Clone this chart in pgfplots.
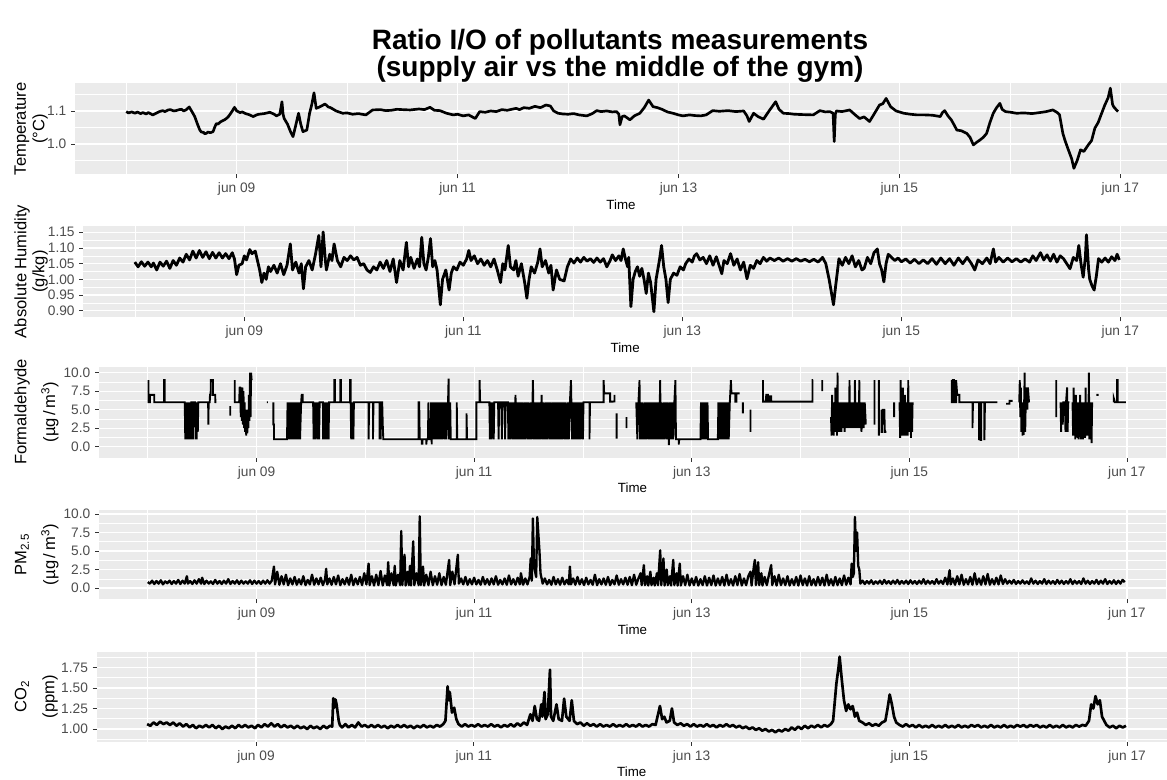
\documentclass[border=0pt]{standalone}
\usepackage{pgfplots}
\pgfplotsset{compat=1.18}
\usepackage{fontspec}
\setmainfont{Liberation Sans}
\definecolor{ggbg}{HTML}{EBEBEB}
\definecolor{ggtick}{HTML}{333333}
\definecolor{ggtext}{HTML}{4D4D4D}
\pgfplotsset{
 ggpanel/.style={
  scale only axis, anchor=south west,
  axis background/.style={fill=ggbg},
  axis line style={draw=none},
  tick align=outside, tick pos=left,
  major tick length=3pt, minor tick length=0pt,
  tick style={draw=ggtick, line width=0.6pt},
  grid=both,
  major grid style={draw=white, line width=0.9pt},
  minor grid style={draw=white, line width=0.45pt},
  xtick={1,3,5,7,9}, xticklabels={jun 09,jun 11,jun 13,jun 15,jun 17},
  minor xtick={0,2,4,6,8},
  tick label style={font=\fontsize{10.3}{12}\selectfont, text=ggtext},
  xlabel={Time}, xlabel style={font=\fontsize{10}{12}\selectfont, text=black, yshift=4pt},
  /pgf/number format/assume math mode=true,
  unbounded coords=jump,
 },
 ggline/.style={black, line width=1.9pt, line join=round, mark=none},
}
\begin{document}
\begin{tikzpicture}
\path[use as bounding box] (0,0) rectangle (875.25pt,585pt);
\node[font=\fontsize{21}{17.5}\selectfont\bfseries, align=center] at (465pt,543pt) {Ratio I/O of pollutants measurements\\(supply air vs the middle of the gym)};

% Panel 1 Temperature
\begin{axis}[ggpanel, at={(56.25pt,454.3pt)}, width=819pt, height=68.25pt,
 xmin=-0.464, xmax=9.423, ymin=0.908, ymax=1.184,
 ytick={1.0,1.1}, minor ytick={0.95,1.05,1.15},
 yticklabel style={/pgf/number format/fixed, /pgf/number format/fixed zerofill, /pgf/number format/precision=1}]
\addplot[ggline, line width=2pt] coordinates {
(0.00,1.098)(0.02,1.094)(0.05,1.097)(0.08,1.093)(0.10,1.097)(0.13,1.092)(0.15,1.095)(0.18,1.091)(0.20,1.095)(0.24,1.088)(0.27,1.093)(0.30,1.098)(0.33,1.101)(0.35,1.098)(0.38,1.103)(0.40,1.104)(0.43,1.100)(0.45,1.101)(0.48,1.104)(0.50,1.105)(0.52,1.100)(0.54,1.103)(0.57,1.112)(0.60,1.095)(0.62,1.083)(0.645,1.060)(0.665,1.043)(0.68,1.036)(0.70,1.035)(0.71,1.031)(0.725,1.032)(0.74,1.036)(0.76,1.034)(0.786,1.037)(0.80,1.050)(0.816,1.062)(0.83,1.060)(0.85,1.066)(0.87,1.070)(0.89,1.073)(0.91,1.078)(0.93,1.085)(0.96,1.100)(0.98,1.111)(1.00,1.100)(1.03,1.095)(1.05,1.097)(1.08,1.092)(1.11,1.089)(1.15,1.083)(1.18,1.088)(1.20,1.090)(1.25,1.092)(1.30,1.096)(1.34,1.090)(1.36,1.085)(1.39,1.090)(1.41,1.128)(1.42,1.090)(1.43,1.077)(1.46,1.060)(1.49,1.035)(1.51,1.022)(1.53,1.050)(1.56,1.093)(1.58,1.060)(1.60,1.037)(1.62,1.040)(1.635,1.042)(1.66,1.093)(1.68,1.120)(1.70,1.155)(1.72,1.108)(1.75,1.112)(1.80,1.121)(1.83,1.112)(1.85,1.110)(1.90,1.100)(1.96,1.093)(2.00,1.094)(2.05,1.090)(2.10,1.092)(2.17,1.088)(2.23,1.103)(2.30,1.104)(2.35,1.101)(2.40,1.102)(2.45,1.105)(2.50,1.104)(2.57,1.103)(2.65,1.106)(2.70,1.104)(2.75,1.111)(2.79,1.102)(2.84,1.101)(2.90,1.093)(2.96,1.088)(3.00,1.090)(3.05,1.085)(3.10,1.088)(3.16,1.077)(3.20,1.098)(3.25,1.096)(3.30,1.100)(3.35,1.098)(3.40,1.104)(3.45,1.102)(3.53,1.108)(3.56,1.104)(3.60,1.110)(3.65,1.108)(3.70,1.114)(3.75,1.110)(3.80,1.118)(3.84,1.115)(3.87,1.100)(3.91,1.093)(3.95,1.091)(4.00,1.090)(4.05,1.092)(4.10,1.088)(4.17,1.085)(4.22,1.092)(4.26,1.101)(4.30,1.098)(4.35,1.100)(4.40,1.097)(4.44,1.098)(4.46,1.090)(4.47,1.058)(4.49,1.083)(4.51,1.085)(4.54,1.078)(4.56,1.073)(4.60,1.085)(4.65,1.093)(4.69,1.110)(4.73,1.133)(4.77,1.113)(4.81,1.110)(4.85,1.105)(4.90,1.097)(4.95,1.093)(5.00,1.088)(5.04,1.085)(5.10,1.088)(5.15,1.086)(5.20,1.085)(5.25,1.088)(5.31,1.101)(5.37,1.099)(5.45,1.101)(5.52,1.098)(5.59,1.100)(5.62,1.085)(5.64,1.068)(5.68,1.093)(5.72,1.083)(5.77,1.075)(5.82,1.100)(5.88,1.128)(5.91,1.105)(5.95,1.093)(6.00,1.092)(6.05,1.090)(6.12,1.089)(6.22,1.088)(6.28,1.101)(6.33,1.097)(6.37,1.098)(6.40,1.093)(6.41,1.007)(6.42,1.090)(6.43,1.100)(6.48,1.098)(6.55,1.103)(6.60,1.088)(6.64,1.077)(6.68,1.082)(6.73,1.068)(6.77,1.090)(6.82,1.118)(6.85,1.122)(6.88,1.138)(6.92,1.113)(6.97,1.100)(7.04,1.093)(7.10,1.090)(7.16,1.088)(7.23,1.088)(7.30,1.087)(7.37,1.083)(7.39,1.095)(7.41,1.101)(7.44,1.085)(7.47,1.073)(7.50,1.055)(7.52,1.042)(7.56,1.040)(7.61,1.032)(7.64,1.020)(7.67,0.997)(7.70,1.005)(7.73,1.012)(7.76,1.020)(7.79,1.032)(7.82,1.065)(7.85,1.093)(7.88,1.110)(7.91,1.123)(7.93,1.105)(7.96,1.098)(8.01,1.096)(8.06,1.093)(8.13,1.094)(8.20,1.092)(8.27,1.095)(8.33,1.098)(8.39,1.103)(8.43,1.095)(8.45,1.088)(8.48,1.032)(8.50,1.010)(8.53,0.982)(8.56,0.955)(8.58,0.926)(8.61,0.950)(8.64,0.982)(8.67,0.977)(8.71,0.997)(8.74,1.010)(8.77,1.048)(8.80,1.065)(8.82,1.083)(8.86,1.118)(8.89,1.140)(8.91,1.169)(8.93,1.120)(8.94,1.113)(8.96,1.105)(8.98,1.098)
};
\end{axis}

% Panel 2 Absolute humidity
\begin{axis}[ggpanel, at={(62.5pt,347pt)}, width=812.8pt, height=68.7pt,
 xmin=-0.470, xmax=9.426, ymin=0.879, ymax=1.171,
 ytick={0.90,0.95,1.00,1.05,1.10,1.15}, minor ytick={0.925,0.975,1.025,1.075,1.125},
 yticklabel style={/pgf/number format/fixed, /pgf/number format/fixed zerofill, /pgf/number format/precision=2}]
\addplot[ggline, line width=2.1pt] coordinates {
(0.00,1.055)(0.03,1.040)(0.06,1.056)(0.09,1.042)(0.12,1.055)(0.15,1.040)(0.17,1.052)(0.20,1.030)(0.23,1.055)(0.26,1.042)(0.29,1.058)(0.32,1.035)(0.35,1.060)(0.38,1.045)(0.41,1.068)(0.44,1.055)(0.47,1.080)(0.50,1.062)(0.53,1.090)(0.56,1.068)(0.59,1.092)(0.62,1.070)(0.65,1.088)(0.68,1.066)(0.71,1.086)(0.74,1.068)(0.77,1.085)(0.80,1.068)(0.83,1.082)(0.86,1.066)(0.89,1.085)(0.91,1.065)(0.93,1.015)(0.95,1.045)(0.98,1.050)(1.00,1.075)(1.02,1.062)(1.05,1.095)(1.07,1.082)(1.10,1.090)(1.12,1.060)(1.14,1.030)(1.16,0.990)(1.18,1.020)(1.20,1.000)(1.22,1.040)(1.24,1.025)(1.27,1.045)(1.30,1.020)(1.33,1.050)(1.36,1.015)(1.39,1.045)(1.42,1.113)(1.44,1.030)(1.47,1.055)(1.50,1.020)(1.52,1.050)(1.54,0.970)(1.56,1.040)(1.59,1.060)(1.62,1.030)(1.65,1.080)(1.68,1.140)(1.70,1.040)(1.72,1.151)(1.74,1.060)(1.75,1.030)(1.78,1.080)(1.80,1.060)(1.82,1.113)(1.85,1.060)(1.88,1.040)(1.91,1.070)(1.94,1.060)(1.97,1.075)(2.00,1.062)(2.03,1.070)(2.06,1.045)(2.09,1.050)(2.12,1.030)(2.15,1.022)(2.18,1.040)(2.21,1.030)(2.24,1.055)(2.27,1.035)(2.30,1.060)(2.33,1.025)(2.36,1.065)(2.39,0.990)(2.42,1.060)(2.45,1.030)(2.48,1.118)(2.50,1.040)(2.52,1.070)(2.55,1.035)(2.58,1.065)(2.60,1.040)(2.62,1.134)(2.64,1.050)(2.66,1.030)(2.68,1.070)(2.70,1.130)(2.72,1.040)(2.74,1.060)(2.76,1.030)(2.79,0.919)(2.81,1.000)(2.84,1.030)(2.87,0.966)(2.89,1.020)(2.91,1.040)(2.94,1.030)(2.97,1.055)(3.00,1.045)(3.03,1.065)(3.05,1.092)(3.07,1.060)(3.10,1.075)(3.13,1.050)(3.16,1.065)(3.19,1.045)(3.22,1.060)(3.25,1.040)(3.28,1.065)(3.31,1.030)(3.34,0.990)(3.36,1.050)(3.38,1.030)(3.41,1.108)(3.43,1.040)(3.46,1.030)(3.48,1.060)(3.50,1.010)(3.53,1.050)(3.56,0.990)(3.58,0.940)(3.60,1.000)(3.62,1.040)(3.65,1.020)(3.68,1.055)(3.70,1.097)(3.72,1.040)(3.75,1.060)(3.78,1.020)(3.80,1.045)(3.82,0.966)(3.85,1.030)(3.88,1.000)(3.92,0.995)(3.95,1.040)(3.98,1.065)(4.01,1.052)(4.04,1.068)(4.07,1.055)(4.10,1.070)(4.13,1.058)(4.16,1.066)(4.19,1.054)(4.22,1.068)(4.25,1.055)(4.28,1.066)(4.31,1.040)(4.34,1.060)(4.36,1.078)(4.39,1.060)(4.42,1.075)(4.44,1.060)(4.46,1.097)(4.48,1.065)(4.50,1.040)(4.51,1.070)(4.53,0.913)(4.55,1.000)(4.57,1.025)(4.59,1.040)(4.61,1.010)(4.63,1.035)(4.65,1.000)(4.67,0.955)(4.69,1.020)(4.71,0.990)(4.74,0.897)(4.76,1.000)(4.79,1.060)(4.81,1.108)(4.83,1.040)(4.85,1.000)(4.87,0.926)(4.89,1.000)(4.92,1.020)(4.95,1.013)(4.98,1.040)(5.01,1.030)(5.03,1.050)(5.06,1.065)(5.09,1.055)(5.11,1.075)(5.13,1.082)(5.16,1.062)(5.19,1.070)(5.22,1.050)(5.25,1.075)(5.28,1.045)(5.31,1.072)(5.34,1.040)(5.36,1.018)(5.38,1.060)(5.41,1.050)(5.44,1.082)(5.47,1.045)(5.50,1.065)(5.53,1.030)(5.56,1.055)(5.59,1.002)(5.62,1.045)(5.65,1.035)(5.68,1.060)(5.71,1.050)(5.74,1.070)(5.77,1.058)(5.80,1.068)(5.84,1.060)(5.88,1.068)(5.92,1.058)(5.96,1.066)(6.00,1.058)(6.04,1.066)(6.08,1.058)(6.12,1.064)(6.16,1.056)(6.20,1.064)(6.24,1.055)(6.28,1.070)(6.31,1.050)(6.34,1.000)(6.36,0.960)(6.38,0.919)(6.40,0.980)(6.43,1.066)(6.46,1.045)(6.49,1.070)(6.52,1.050)(6.55,1.075)(6.58,1.040)(6.61,1.060)(6.64,1.030)(6.66,1.035)(6.69,1.070)(6.72,1.050)(6.75,1.085)(6.78,1.097)(6.80,1.050)(6.82,1.030)(6.84,0.992)(6.86,1.050)(6.88,1.080)(6.91,1.070)(6.94,1.060)(6.97,1.068)(7.00,1.056)(7.04,1.065)(7.08,1.052)(7.12,1.064)(7.16,1.050)(7.20,1.062)(7.24,1.050)(7.28,1.066)(7.32,1.048)(7.36,1.068)(7.40,1.050)(7.44,1.066)(7.48,1.045)(7.52,1.068)(7.56,1.050)(7.60,1.070)(7.64,1.050)(7.67,1.030)(7.70,1.062)(7.74,1.050)(7.78,1.068)(7.81,1.050)(7.84,1.097)(7.86,1.055)(7.89,1.070)(7.93,1.055)(7.97,1.068)(8.01,1.056)(8.05,1.066)(8.09,1.055)(8.13,1.065)(8.17,1.055)(8.20,1.075)(8.23,1.060)(8.27,1.085)(8.30,1.062)(8.33,1.078)(8.36,1.058)(8.39,1.080)(8.42,1.055)(8.45,1.075)(8.48,1.066)(8.51,1.050)(8.54,1.034)(8.57,1.070)(8.60,1.060)(8.62,1.108)(8.64,1.050)(8.66,1.007)(8.68,1.070)(8.69,1.142)(8.71,1.030)(8.72,1.000)(8.74,0.980)(8.76,0.966)(8.78,1.010)(8.80,1.066)(8.83,1.055)(8.86,1.068)(8.89,1.055)(8.92,1.072)(8.95,1.060)(8.97,1.080)(8.99,1.062)
};
\end{axis}

% Panel 3 Formaldehyde
\begin{axis}[ggpanel, at={(74.25pt,241.7pt)}, width=800.25pt, height=68.25pt,
 xmin=-0.448, xmax=9.359, ymin=-1.49, ymax=10.81,
 ytick={0,2.5,5,7.5,10}, minor ytick={1.25,3.75,6.25,8.75},
 yticklabel style={/pgf/number format/fixed, /pgf/number format/fixed zerofill, /pgf/number format/precision=1}]
\addplot[ggline, line width=1.4pt, line join=miter] coordinates {
(0.007,9)(0.007,6)(0.02,6)(0.02,7)(0.06,7)(0.06,6)(0.15,6)(0.15,9)(0.156,9)(0.156,6)(0.34,6)
(0.345,1)(0.35,6)(0.355,1)(0.36,6)(0.365,1)(0.37,6)(0.375,1)(0.38,6)(0.385,1)(0.39,6)(0.395,1)(0.40,6)(0.41,6)(0.415,1)(0.42,6)(0.435,6)(0.44,1)(0.445,6)(0.45,1)(0.455,6)(0.46,2)(0.465,6)
(0.555,6)(0.557,3)(0.56,6)(0.57,6)(0.572,7)(0.578,7)(0.58,9)(0.60,9)(0.60,7)(0.62,7)(0.622,6)(0.63,6)(0.631,nan)
(0.758,5.5)(0.758,4.2)(0.759,nan)
(0.80,9)(0.80,6)(0.84,6)(0.845,8)(0.85,8)(0.855,4)(0.86,8)(0.865,3.5)(0.87,8)(0.875,3)(0.88,7.5)(0.885,2.5)(0.89,6)(0.895,2)(0.90,5)(0.905,1.5)(0.91,4)(0.915,1.8)(0.92,5)(0.925,2.5)(0.93,7)(0.935,3.5)(0.94,10)(0.945,4)(0.95,10)(0.955,9)(0.956,nan)
(1.095,6)(1.105,6)(1.106,nan)
(1.155,6)(1.155,3)(1.16,3)(1.16,1)(1.28,1)
(1.285,6)(1.29,1)(1.295,6)(1.30,1)(1.305,6)(1.31,1)(1.32,6)(1.325,1)(1.335,6)(1.34,1)(1.35,6)(1.355,1)(1.365,6)(1.37,1)(1.38,6)(1.385,1)(1.395,6)(1.40,1)(1.41,6)(1.415,7)(1.425,7)(1.425,6)(1.52,6)
(1.525,1)(1.53,6)(1.54,1)(1.545,6)(1.56,1)(1.565,6)(1.575,1)(1.58,6)(1.61,6)(1.612,1)(1.617,6)(1.622,1)(1.627,6)(1.632,1)(1.637,6)(1.642,1)(1.647,6)(1.652,1)(1.657,6)(1.662,1)(1.667,6)(1.715,6)(1.715,9)(1.72,9)(1.72,6)(1.77,6)(1.77,9)(1.775,9)(1.775,6)(1.86,6)(1.86,9)(1.865,9)(1.865,6)(1.87,1)(1.875,6)(1.88,1)(1.885,6)(1.89,1)(1.895,6)(2.03,6)(2.03,1)(2.035,6)(2.07,6)(2.07,1)(2.075,6)(2.13,6)(2.13,1)(2.135,6)(2.14,1)(2.145,6)(2.155,6)(2.16,3)(2.165,1)(2.49,1)
(2.49,6)(2.495,6)(2.50,1)(2.52,1)(2.52,0.4)(2.525,0.4)(2.525,1)(2.56,1)(2.56,0.3)(2.565,1)(2.575,1)(2.58,6)(2.585,1)(2.60,1)(2.605,6)(2.61,0.3)(2.615,6)(2.62,1)(2.63,6)(2.635,1)(2.645,6)(2.65,1)(2.66,6)(2.665,1)(2.68,6)(2.685,1)(2.70,6)(2.705,1)(2.72,6)(2.725,1)(2.74,6)(2.745,1)(2.76,6)(2.765,9.2)(2.77,1)(2.78,6)(2.785,1)(2.84,1)(2.84,6)(2.845,1)(2.93,1)(2.93,4.5)(2.935,1)(3.02,1)(3.02,6)(3.05,6)(3.05,9)(3.055,6)(3.14,6)(3.145,1)(3.15,6)(3.16,1)(3.165,6)(3.18,1)(3.185,6)(3.22,6)(3.225,1)(3.23,6)(3.25,6)(3.255,1)(3.26,6)(3.28,6)(3.285,1)(3.29,6)(3.31,6)(3.315,1)(3.32,6)
(3.33,1)(3.34,6)(3.35,1)(3.36,6)(3.37,1)(3.38,7)(3.39,1)(3.40,6)(3.41,1)(3.42,6)(3.43,1)(3.44,6)(3.45,1)(3.46,6)(3.47,1)(3.48,6)(3.49,1)(3.50,6)(3.51,1)(3.52,6)(3.53,1)(3.54,9)(3.55,1)(3.56,6)(3.57,1)(3.58,6)(3.59,1)(3.60,6)(3.61,1)(3.62,7)(3.63,1)(3.64,6)(3.65,1)(3.66,6)(3.67,1)(3.68,6)(3.69,1)(3.70,6)(3.71,1)(3.72,6)(3.73,1)(3.74,6)(3.75,1)(3.76,6)(3.77,1)(3.78,6)(3.79,1)(3.80,6)(3.81,1)(3.82,6)(3.83,1)(3.84,6)(3.85,1)(3.86,6)(3.87,1)(3.88,6)(3.89,9)(3.90,1)(3.91,6)(3.92,1)(3.93,6)(3.94,1)(3.95,6)(3.96,1)(3.97,6)(3.98,1)(3.99,6)(4.00,1)(4.005,6)
(4.06,6)(4.06,1)(4.065,6)(4.19,6)(4.19,9)(4.195,7.2)(4.25,7.2)(4.25,6.1)(4.28,6.1)(4.281,nan)
(4.29,7)(4.29,6)(4.291,nan)(4.31,4.5)(4.31,1.1)(4.311,nan)(4.40,4)(4.40,2.5)(4.401,nan)
(4.49,6)(4.50,1)(4.51,6)(4.52,9)(4.525,1)(4.53,6)(4.54,1)(4.55,6)(4.56,1)(4.57,6)(4.58,1)(4.59,6)(4.60,1)(4.61,6)(4.62,1)(4.63,6)(4.64,1)(4.65,6)(4.66,1)(4.67,6)(4.68,1)(4.69,6)(4.70,1)(4.71,9)(4.715,1)(4.72,6)(4.73,1)(4.74,6)(4.75,1)(4.76,6)(4.77,1)(4.78,6)(4.79,0.2)(4.80,6)(4.81,1)(4.82,6)(4.83,1)(4.84,6)(4.85,9)(4.855,1)(4.88,1)(4.88,0.3)(4.885,1)(5.08,1)
(5.085,6)(5.09,1)(5.095,6)(5.10,1)(5.105,6)(5.11,1)(5.115,6)(5.12,1)(5.125,6)(5.13,1)(5.135,6)(5.14,1)(5.145,6)(5.15,1)(5.24,1)(5.245,6)(5.25,1)(5.255,6)(5.26,1)(5.265,6)(5.27,1)(5.28,6)(5.285,1)(5.29,6)(5.30,1)(5.305,6)(5.31,1)(5.32,6)(5.325,1)(5.335,6)(5.34,1)(5.35,6)(5.36,9)(5.365,7.2)(5.40,7.2)(5.40,6.1)(5.41,6.1)(5.41,7.2)(5.44,7.2)(5.441,nan)
(5.47,6)(5.47,4.5)(5.471,nan)(5.54,5)(5.54,2)(5.541,nan)
(5.655,9)(5.655,6.1)(5.68,6.1)(5.685,7)(5.70,7)(5.70,6.1)(5.72,6.1)(5.72,6.8)(5.73,6.8)(5.73,6.1)(6.11,6.1)(6.11,9)(6.115,9)(6.116,nan)
(6.20,9)(6.20,7.5)(6.201,nan)
(6.28,4)(6.285,1.5)(6.29,7)(6.295,2)(6.30,6)(6.305,1.5)(6.31,6)(6.315,2)(6.32,8)(6.325,2)(6.33,6)(6.335,1.5)(6.34,10)(6.345,2)(6.35,6)(6.355,2)(6.36,6)(6.365,2.5)(6.37,6)(6.375,2)(6.38,6)(6.385,2.5)(6.39,6)(6.395,2.5)(6.40,6)(6.405,2)(6.41,6)(6.415,2.5)(6.42,6)(6.425,2.5)(6.43,6)(6.435,2.5)(6.44,6)(6.445,2.5)(6.45,9)(6.455,2.5)(6.46,6)(6.465,2.5)(6.47,6)(6.475,2.5)(6.48,6)(6.485,2.5)(6.49,6)(6.495,2.5)(6.50,9)(6.505,2.5)(6.51,6)(6.515,2.5)(6.52,6)(6.525,2.5)(6.53,6)(6.535,2.5)(6.54,9)(6.545,2.5)(6.55,6)(6.56,2)(6.57,6)(6.58,2.5)(6.59,6)(6.60,3)(6.601,nan)
(6.68,9)(6.68,3)(6.681,nan)(6.72,9)(6.72,1.5)(6.721,nan)(6.745,5)(6.745,2)(6.75,2)(6.755,5)(6.77,5)(6.775,2)(6.79,2)(6.791,nan)
(6.86,4)(6.86,6)(6.861,nan)
(6.91,6)(6.915,1.2)(6.92,9)(6.925,1.5)(6.93,6)(6.935,2)(6.94,8)(6.945,1.5)(6.95,6)(6.955,1.5)(6.96,7)(6.965,2)(6.97,6)(6.975,1.5)(6.98,6)(6.985,1.5)(6.99,9)(6.995,2)(7.00,6)(7.005,2)(7.01,6)(7.015,1.2)(7.02,6)(7.025,2)(7.03,6)(7.031,nan)
(7.39,9)(7.39,6)(7.40,6)(7.40,9)(7.41,9)(7.41,6)(7.43,6)(7.43,9)(7.44,7)(7.46,7)(7.46,6)(7.58,6)(7.58,2.5)(7.585,6)(7.64,6)(7.64,0.9)(7.645,6)(7.65,6)(7.655,0.9)(7.66,0.9)(7.66,6)(7.69,6)(7.69,0.9)(7.695,6)(7.81,6)(7.811,nan)
(7.89,5.8)(7.92,5.8)(7.92,6.2)(7.95,6.2)(7.951,nan)
(8.01,6)(8.015,9)(8.02,4)(8.025,8)(8.03,2)(8.035,6)(8.04,1.5)(8.045,4)(8.05,1.6)(8.055,6)(8.06,10)(8.065,2)(8.07,6)(8.08,8)(8.085,5)(8.09,8)(8.10,6)(8.101,nan)
(8.35,4)(8.35,9)(8.351,nan)
(8.39,6)(8.395,2)(8.40,6)(8.41,3)(8.415,6)(8.43,6)(8.435,2)(8.44,6)(8.45,8)(8.455,2)(8.46,6)(8.47,6)(8.471,nan)
(8.50,6)(8.505,1.5)(8.51,8)(8.515,1.5)(8.52,6)(8.525,1)(8.53,7)(8.535,1.5)(8.54,6)(8.545,1.2)(8.55,6)(8.555,1)(8.56,6)(8.565,1.5)(8.57,7)(8.575,1)(8.58,6)(8.585,1.2)(8.59,6)(8.595,1)(8.60,6)(8.605,1.5)(8.61,6)(8.615,1.2)(8.62,8)(8.625,1.5)(8.63,6)(8.635,2)(8.64,6)(8.645,1.5)(8.65,10)(8.655,1)(8.66,6)(8.665,1)(8.67,6)(8.675,0.5)(8.68,6)(8.681,nan)
(8.72,7)(8.74,7)(8.741,nan)
(8.88,6)(8.88,6.5)(8.89,6)(8.91,6)(8.91,9)(8.915,9)(8.915,6)(8.99,6)
};
\end{axis}

% Panel 4 PM2.5
\begin{axis}[ggpanel, at={(74.25pt,135.5pt)}, width=800.25pt, height=67pt,
 xmin=-0.448, xmax=9.359, ymin=-1.52, ymax=10.54,
 ytick={0,2.5,5,7.5,10}, minor ytick={1.25,3.75,6.25,8.75},
 yticklabel style={/pgf/number format/fixed, /pgf/number format/fixed zerofill, /pgf/number format/precision=1}]
\addplot[ggline, line width=1.75pt] coordinates {
(0.00,0.8)(0.02,0.6)(0.04,1.0)(0.06,0.55)(0.08,0.95)(0.10,0.6)(0.12,1.05)(0.14,0.5)(0.16,0.9)(0.18,0.65)(0.20,1.0)(0.22,0.55)(0.24,0.95)(0.26,0.6)(0.28,1.1)(0.30,0.55)(0.32,1.0)(0.34,0.6)(0.36,1.6)(0.37,0.6)(0.39,0.95)(0.41,0.55)(0.43,1.05)(0.45,0.6)(0.47,1.2)(0.49,0.6)(0.50,1.4)(0.52,0.55)(0.54,1.0)(0.56,0.6)(0.58,0.9)(0.60,0.55)(0.62,1.1)(0.64,0.6)(0.66,0.95)(0.68,0.55)(0.70,1.0)(0.72,0.6)(0.74,1.2)(0.76,0.55)(0.78,0.95)(0.80,0.6)(0.82,1.05)(0.84,0.55)(0.86,1.0)(0.88,0.6)(0.90,0.9)(0.92,0.6)(0.94,1.05)(0.96,0.55)(0.98,1.0)(1.00,0.6)(1.02,0.95)(1.04,0.55)(1.06,1.0)(1.08,0.6)(1.10,1.05)(1.12,0.6)(1.14,1.0)
(1.16,2.9)(1.17,0.5)(1.19,2.2)(1.21,0.45)(1.23,1.6)(1.25,0.5)(1.27,1.8)(1.29,0.4)(1.31,1.3)(1.33,0.5)(1.35,1.5)(1.37,0.45)(1.39,1.2)(1.41,0.5)(1.43,1.6)(1.45,0.4)(1.47,1.1)(1.49,0.5)(1.51,1.8)(1.53,0.45)(1.55,1.3)(1.57,0.5)(1.59,1.4)(1.61,0.4)(1.63,1.2)(1.64,2.6)(1.65,0.5)(1.67,1.3)(1.69,0.45)(1.71,1.5)(1.73,0.5)(1.75,1.7)(1.77,0.4)(1.79,1.2)(1.81,0.5)(1.83,1.4)(1.85,0.45)(1.87,1.8)(1.89,0.4)(1.91,1.3)(1.93,0.5)(1.95,1.5)(1.97,0.4)(1.99,2.0)(2.01,0.5)(2.03,3.3)(2.04,0.4)(2.06,1.6)(2.08,0.35)(2.10,1.8)(2.12,0.4)(2.14,2.3)(2.16,0.35)(2.18,1.7)(2.20,0.4)(2.21,3.5)(2.22,0.35)(2.24,2.0)(2.26,0.4)(2.27,3.0)(2.28,0.35)(2.30,1.8)(2.32,0.4)(2.33,7.7)(2.34,0.4)(2.36,4.5)(2.37,0.35)(2.39,2.2)(2.40,0.4)(2.41,3.0)(2.42,0.35)(2.44,6.3)(2.45,0.4)(2.47,2.0)(2.49,0.4)(2.50,9.7)(2.51,0.4)(2.53,2.9)(2.54,0.35)(2.56,1.8)(2.58,0.4)(2.60,2.2)(2.62,0.4)(2.64,1.6)(2.66,0.45)(2.68,2.0)(2.70,0.4)(2.72,1.5)(2.74,0.45)(2.77,3.8)(2.78,0.4)(2.80,2.2)(2.82,0.5)(2.85,4.5)(2.86,0.6)(2.88,1.3)(2.90,0.5)(2.92,1.5)(2.94,0.45)(2.96,1.2)(2.98,0.5)(3.00,1.4)(3.02,0.5)(3.04,1.1)(3.06,0.45)(3.08,1.5)(3.10,0.5)(3.12,1.2)(3.14,0.45)(3.16,1.3)(3.18,0.5)(3.20,1.6)(3.22,0.45)(3.24,1.1)(3.26,0.5)(3.28,1.3)(3.30,0.45)(3.32,1.7)(3.34,0.5)(3.36,1.2)(3.38,0.45)(3.40,1.4)(3.42,0.5)(3.43,2.0)(3.45,0.45)(3.47,1.3)(3.49,0.5)(3.51,1.5)(3.52,4.0)(3.53,1.0)(3.54,9.4)(3.55,3.0)(3.57,1.5)(3.58,9.6)(3.60,5.1)(3.61,2.0)(3.63,0.6)(3.65,1.3)(3.67,0.5)(3.69,1.1)(3.71,0.45)(3.73,1.5)(3.75,0.5)(3.77,1.2)(3.79,0.45)(3.81,1.4)(3.83,0.5)(3.85,1.1)(3.87,0.5)(3.88,2.9)(3.89,0.5)(3.91,1.3)(3.93,0.45)(3.95,1.5)(3.97,0.5)(3.99,1.2)(4.01,0.4)(4.03,1.4)(4.05,0.5)(4.07,1.1)(4.09,0.45)(4.11,1.8)(4.13,0.4)(4.15,1.2)(4.17,0.5)(4.19,1.3)(4.21,0.45)(4.23,1.5)(4.25,0.4)(4.27,1.1)(4.29,0.5)(4.31,1.7)(4.33,0.45)(4.35,1.2)(4.37,0.5)(4.39,1.4)(4.41,0.45)(4.43,1.5)(4.45,0.4)(4.47,1.8)(4.49,0.45)(4.51,1.3)(4.53,2.0)(4.54,0.4)(4.56,3.1)(4.57,0.4)(4.59,1.6)(4.60,0.35)(4.62,2.2)(4.63,0.4)(4.65,1.4)(4.66,0.35)(4.68,2.0)(4.69,0.4)(4.71,5.1)(4.72,0.4)(4.74,4.0)(4.75,0.35)(4.77,2.5)(4.78,0.4)(4.80,1.6)(4.81,0.35)(4.83,3.8)(4.84,0.4)(4.86,2.0)(4.87,0.35)(4.89,3.3)(4.90,0.35)(4.92,1.6)(4.94,0.4)(4.96,1.8)(4.98,0.35)(5.00,1.3)(5.02,0.4)(5.04,1.5)(5.06,0.35)(5.08,1.2)(5.10,0.4)(5.12,1.6)(5.14,0.35)(5.16,1.4)(5.18,0.4)(5.20,1.7)(5.22,0.35)(5.24,1.3)(5.26,0.4)(5.28,1.5)(5.30,0.35)(5.32,1.8)(5.34,0.4)(5.36,1.2)(5.38,0.35)(5.40,1.6)(5.42,0.4)(5.44,1.9)(5.46,0.35)(5.48,1.3)(5.50,0.4)(5.52,1.6)(5.54,2.2)(5.55,0.35)(5.57,2.8)(5.58,3.8)(5.59,0.4)(5.61,3.5)(5.62,0.4)(5.64,2.0)(5.65,0.35)(5.67,1.5)(5.69,0.4)(5.71,1.8)(5.73,3.1)(5.74,0.4)(5.76,1.6)(5.78,0.35)(5.80,1.8)(5.82,0.4)(5.84,1.3)(5.86,0.4)(5.88,1.6)(5.90,0.35)(5.92,1.2)(5.94,0.4)(5.96,1.5)(5.98,0.35)(6.00,1.7)(6.02,0.4)(6.04,1.3)(6.06,0.35)(6.08,1.6)(6.10,0.4)(6.12,1.2)(6.14,0.35)(6.16,1.5)(6.18,0.4)(6.20,1.4)(6.22,0.35)(6.24,1.8)(6.26,0.4)(6.28,1.2)(6.30,0.35)(6.32,1.5)(6.34,0.4)(6.36,1.3)(6.38,0.4)(6.40,1.7)(6.42,0.45)(6.44,1.4)(6.46,0.5)(6.47,3.3)(6.48,1.5)(6.49,2.0)(6.50,9.6)(6.51,5.0)(6.52,7.5)(6.53,3.0)(6.54,2.5)(6.55,0.6)
(6.57,1.0)(6.59,0.55)(6.61,0.95)(6.63,0.6)(6.65,1.05)(6.67,0.55)(6.69,0.9)(6.71,0.6)(6.73,1.0)(6.75,0.55)(6.77,1.1)(6.79,0.6)(6.81,0.95)(6.83,0.55)(6.85,1.0)(6.87,0.6)(6.89,1.1)(6.91,0.55)(6.93,0.95)(6.95,0.6)(6.97,1.0)(6.99,0.55)(7.01,1.05)(7.03,0.6)(7.05,0.95)(7.07,0.55)(7.09,1.0)(7.11,0.6)(7.13,1.2)(7.15,0.55)(7.17,1.0)(7.19,0.6)(7.21,0.95)(7.23,0.55)(7.25,1.2)(7.27,0.6)(7.29,1.0)(7.31,0.55)(7.33,1.4)
(7.35,0.5)(7.37,2.4)(7.38,0.5)(7.40,1.3)(7.42,0.45)(7.44,1.6)(7.46,0.5)(7.48,1.8)(7.50,0.45)(7.52,1.2)(7.54,0.5)(7.56,1.5)(7.58,0.45)(7.60,2.0)(7.62,0.5)(7.64,1.3)(7.66,0.45)(7.68,1.6)(7.70,0.5)(7.72,1.9)(7.74,0.45)(7.76,1.2)(7.78,0.5)(7.80,1.4)(7.82,0.5)(7.84,1.7)(7.86,0.55)(7.88,1.2)(7.90,0.6)
(7.92,1.0)(7.94,0.6)(7.96,1.1)(7.98,0.55)(8.00,0.95)(8.02,0.6)(8.04,1.05)(8.06,0.6)(8.08,0.9)(8.10,0.55)(8.12,1.3)(8.14,0.6)(8.16,1.0)(8.18,0.55)(8.20,0.95)(8.22,0.6)(8.24,1.2)(8.26,0.55)(8.28,1.0)(8.30,0.6)(8.32,0.95)(8.34,0.55)(8.36,1.1)(8.38,0.6)(8.40,1.0)(8.42,0.55)(8.44,0.95)(8.46,0.6)(8.48,1.2)(8.50,0.55)(8.52,1.0)(8.54,0.6)(8.56,0.95)(8.58,0.55)(8.60,1.3)(8.62,0.6)(8.64,1.0)(8.66,0.55)(8.68,0.95)(8.70,0.6)(8.72,1.1)(8.74,0.55)(8.76,1.0)(8.78,0.6)(8.80,1.2)(8.82,0.55)(8.84,0.95)(8.86,0.6)(8.88,1.05)(8.90,0.55)(8.92,1.0)(8.94,0.6)(8.96,1.1)(8.98,0.8)
};
\end{axis}

% Panel 5 CO2
\begin{axis}[ggpanel, at={(72.5pt,28.7pt)}, width=802.7pt, height=67.5pt,
 xmin=-0.463, xmax=9.366, ymin=0.846, ymax=1.94,
 ytick={1.00,1.25,1.50,1.75}, minor ytick={0.875,1.125,1.375,1.625,1.875},
 yticklabel style={/pgf/number format/fixed, /pgf/number format/fixed zerofill, /pgf/number format/precision=2}]
\addplot[ggline, line width=2pt] coordinates {
(0.00,1.06)(0.03,1.04)(0.06,1.08)(0.09,1.05)(0.12,1.09)(0.15,1.06)(0.18,1.08)(0.21,1.05)(0.24,1.08)(0.27,1.04)(0.30,1.07)(0.33,1.03)(0.36,1.06)(0.39,1.02)(0.42,1.05)(0.45,1.01)(0.48,1.04)(0.51,1.02)(0.54,1.05)(0.57,1.02)(0.60,1.05)(0.63,1.01)(0.66,1.04)(0.69,1.00)(0.72,1.03)(0.75,1.01)(0.78,1.04)(0.81,1.01)(0.84,1.05)(0.87,1.02)(0.90,1.05)(0.93,1.02)(0.96,1.04)(0.99,1.01)(1.02,1.05)(1.05,1.02)(1.08,1.06)(1.11,1.03)(1.14,1.07)(1.17,1.03)(1.20,1.06)(1.23,1.02)(1.26,1.05)(1.29,1.02)(1.32,1.04)(1.35,1.01)(1.38,1.04)(1.41,1.01)(1.44,1.03)(1.47,1.00)(1.50,1.04)(1.53,1.01)(1.56,1.03)(1.59,1.00)(1.62,1.04)(1.65,1.01)(1.68,1.04)(1.70,1.03)(1.71,1.375)(1.72,1.26)(1.73,1.36)(1.74,1.30)(1.75,1.20)(1.76,1.10)(1.77,1.05)(1.79,1.02)(1.82,1.06)(1.85,1.02)(1.88,1.05)(1.91,1.02)(1.94,1.08)(1.97,1.03)(2.00,1.05)(2.03,1.02)(2.06,1.05)(2.09,1.02)(2.12,1.05)(2.15,1.02)(2.18,1.04)(2.21,1.01)(2.24,1.04)(2.27,1.02)(2.30,1.05)(2.33,1.02)(2.36,1.05)(2.39,1.02)(2.42,1.04)(2.45,1.01)(2.48,1.04)(2.51,1.02)(2.54,1.05)(2.57,1.02)(2.60,1.04)(2.63,1.02)(2.66,1.05)(2.69,1.03)(2.72,1.06)(2.74,1.10)(2.76,1.52)(2.77,1.35)(2.78,1.45)(2.80,1.20)(2.82,1.26)(2.84,1.12)(2.86,1.06)(2.89,1.03)(2.92,1.06)(2.95,1.03)(2.98,1.05)(3.01,1.03)(3.04,1.06)(3.07,1.03)(3.10,1.05)(3.13,1.03)(3.16,1.06)(3.19,1.03)(3.22,1.05)(3.25,1.02)(3.28,1.05)(3.31,1.03)(3.34,1.06)(3.37,1.03)(3.40,1.07)(3.43,1.04)(3.46,1.08)(3.49,1.05)(3.52,1.18)(3.54,1.10)(3.56,1.28)(3.58,1.12)(3.60,1.10)(3.62,1.30)(3.63,1.15)(3.65,1.45)(3.66,1.12)(3.68,1.18)(3.70,1.72)(3.71,1.15)(3.73,1.10)(3.76,1.30)(3.78,1.12)(3.81,1.10)(3.83,1.37)(3.85,1.15)(3.88,1.10)(3.90,1.35)(3.92,1.10)(3.95,1.06)(3.98,1.08)(4.01,1.04)(4.04,1.07)(4.07,1.04)(4.10,1.06)(4.13,1.03)(4.16,1.06)(4.19,1.03)(4.22,1.05)(4.25,1.03)(4.28,1.06)(4.31,1.03)(4.34,1.05)(4.37,1.03)(4.40,1.06)(4.43,1.03)(4.46,1.05)(4.49,1.03)(4.52,1.06)(4.55,1.03)(4.58,1.05)(4.61,1.03)(4.64,1.06)(4.67,1.05)(4.71,1.28)(4.73,1.12)(4.75,1.15)(4.77,1.08)(4.80,1.10)(4.82,1.25)(4.84,1.08)(4.87,1.05)(4.90,1.07)(4.93,1.04)(4.96,1.06)(4.99,1.03)(5.02,1.06)(5.05,1.03)(5.08,1.05)(5.11,1.03)(5.14,1.06)(5.17,1.03)(5.20,1.05)(5.23,1.02)(5.26,1.05)(5.29,1.03)(5.32,1.06)(5.35,1.03)(5.38,1.05)(5.41,1.02)(5.44,1.04)(5.47,1.01)(5.50,1.03)(5.53,1.00)(5.56,1.02)(5.59,0.99)(5.62,1.01)(5.65,0.98)(5.68,1.00)(5.71,0.97)(5.74,0.99)(5.77,0.96)(5.80,0.99)(5.83,0.97)(5.86,1.00)(5.89,0.98)(5.92,1.02)(5.95,0.99)(5.98,1.03)(6.01,1.00)(6.04,1.04)(6.07,1.01)(6.10,1.04)(6.13,1.02)(6.16,1.05)(6.19,1.02)(6.22,1.05)(6.25,1.03)(6.28,1.06)(6.30,1.10)(6.32,1.40)(6.33,1.55)(6.35,1.75)(6.36,1.88)(6.38,1.60)(6.40,1.35)(6.42,1.22)(6.44,1.30)(6.46,1.24)(6.48,1.28)(6.50,1.15)(6.52,1.20)(6.54,1.10)(6.57,1.08)(6.60,1.05)(6.63,1.07)(6.66,1.04)(6.69,1.06)(6.72,1.04)(6.75,1.08)(6.78,1.10)(6.80,1.25)(6.82,1.42)(6.84,1.30)(6.86,1.15)(6.88,1.08)(6.91,1.05)(6.94,1.03)(6.97,1.06)(7.00,1.03)(7.03,1.05)(7.06,1.02)(7.09,1.05)(7.12,1.02)(7.15,1.04)(7.18,1.02)(7.21,1.05)(7.24,1.02)(7.27,1.04)(7.30,1.02)(7.33,1.05)(7.36,1.02)(7.39,1.04)(7.42,1.02)(7.45,1.05)(7.48,1.02)(7.51,1.04)(7.54,1.02)(7.57,1.05)(7.60,1.03)(7.63,1.05)(7.66,1.02)(7.69,1.04)(7.72,1.02)(7.75,1.05)(7.78,1.02)(7.81,1.04)(7.84,1.02)(7.87,1.05)(7.90,1.02)(7.93,1.04)(7.96,1.02)(7.99,1.05)(8.02,1.03)(8.05,1.05)(8.08,1.02)(8.11,1.05)(8.14,1.03)(8.17,1.05)(8.20,1.02)(8.23,1.04)(8.26,1.02)(8.29,1.05)(8.32,1.02)(8.35,1.04)(8.38,1.02)(8.41,1.05)(8.44,1.02)(8.47,1.04)(8.50,1.02)(8.53,1.05)(8.56,1.03)(8.59,1.05)(8.62,1.04)(8.65,1.10)(8.67,1.30)(8.69,1.25)(8.71,1.40)(8.73,1.30)(8.75,1.35)(8.77,1.15)(8.79,1.10)(8.81,1.05)(8.84,1.02)(8.87,1.04)(8.90,1.01)(8.93,1.04)(8.96,1.02)(8.99,1.04)
};
\end{axis}

% y-axis titles
\begin{scope}[every node/.style={rotate=90, anchor=center, font=\fontsize{12.4}{14}\selectfont}]
\node at (16.5pt,488.4pt) {Temperature};
\node at (30pt,488.4pt) {(°C)};
\node at (16.5pt,381.4pt) {Absolute Humidity};
\node at (30pt,381.4pt) {(g/kg)};
\node at (16.5pt,275.9pt) {Formaldehyde};
\node at (37.5pt,275.9pt) {(µg\,/\,m\textsuperscript{3})};
\node at (16.5pt,169pt) {PM\textsubscript{2.5}};
\node at (37.5pt,169pt) {(µg\,/\,m\textsuperscript{3})};
\node at (16.5pt,62.5pt) {CO\textsubscript{2}};
\node at (37.5pt,62.5pt) {(ppm)};
\end{scope}
\end{tikzpicture}
\end{document}
